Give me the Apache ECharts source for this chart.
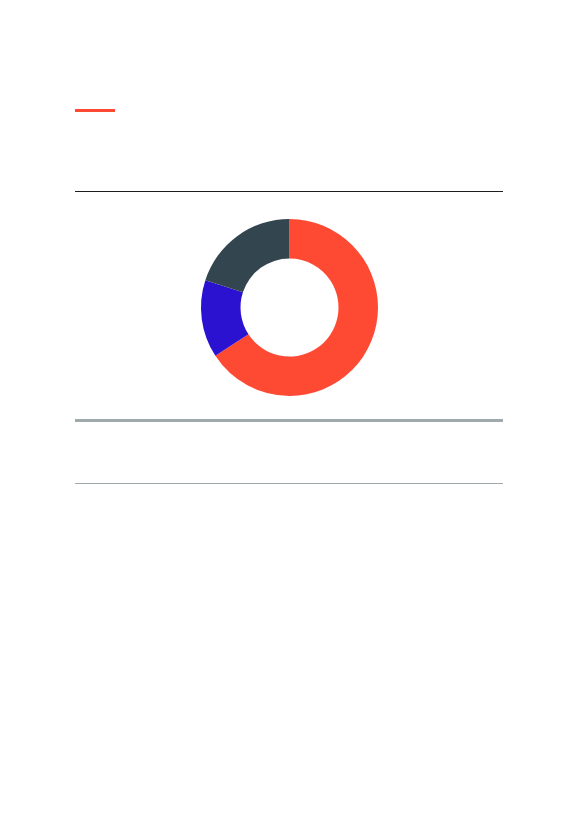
<!DOCTYPE html>
<html>
<head>
<meta charset="utf-8">
<script src="https://cdn.jsdelivr.net/npm/echarts@6/dist/echarts.min.js"></script>
<style>
html,body{margin:0;padding:0;background:#fff;}
#c{width:583px;height:827px;}
</style>
</head>
<body>
<div id="c"></div>
<script>
var categories = ['A', 'B', 'C'];
var values = [65.8, 14.2, 20.0];
var colors = ['#ff4a33', '#2b12d1', '#33464f'];

var chart = echarts.init(document.getElementById('c'), null, {renderer: 'canvas'});
chart.setOption({
  backgroundColor: '#ffffff',
  animation: false,
  graphic: [
    {type: 'rect', shape: {x: 75, y: 109, width: 40, height: 3}, style: {fill: '#ff4a33'}},
    {type: 'rect', shape: {x: 75, y: 191, width: 428, height: 1}, style: {fill: '#1e1e1e'}},
    {type: 'rect', shape: {x: 75, y: 419, width: 428, height: 3}, style: {fill: '#a0a9ab'}},
    {type: 'rect', shape: {x: 75, y: 483, width: 428, height: 1}, style: {fill: '#a0a9ab'}}
  ],
  series: [{
    type: 'pie',
    center: [289.5, 307.5],
    radius: [49, 88.5],
    startAngle: 90,
    clockwise: true,
    label: {show: false},
    labelLine: {show: false},
    emphasis: {disabled: true},
    data: categories.map(function (c, i) {
      return {name: c, value: values[i], itemStyle: {color: colors[i]}};
    })
  }]
});
</script>
</body>
</html>
